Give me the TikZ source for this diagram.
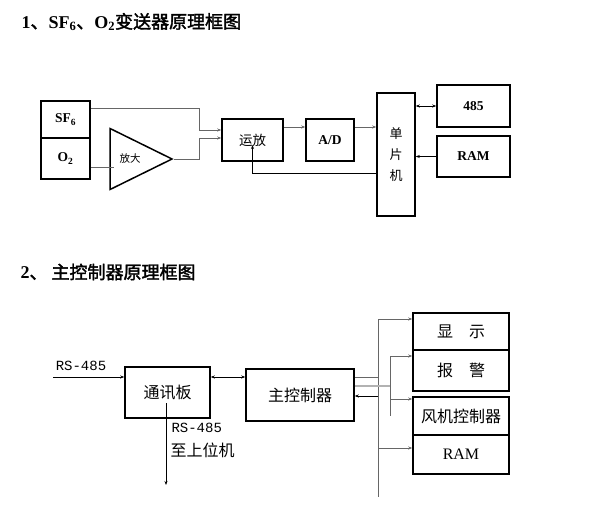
\documentclass[tikz,border=0pt]{standalone}
\usepackage{fontspec}
\setmainfont{Liberation Serif}
\setmonofont{Liberation Mono}
\newfontfamily\cjk[AutoFakeBold=2]{Noto Sans CJK SC}
\usetikzlibrary{shapes.geometric,arrows.meta,positioning,calc}

\begin{document}
\begin{tikzpicture}[x=1pt,y=-1pt,
      box/.style    = {rectangle, draw=black, line width=1.5pt, inner sep=0pt,
                       align=center},
      amp/.style    = {isosceles triangle, isosceles triangle stretches,
                       draw=black, line width=1.5pt, inner sep=0pt,
                       minimum width=61pt, minimum height=62pt},
      arrow/.style  = {-{Stealth[length=4pt,width=3pt]}, line width=0.8pt},
      darrow/.style = {{Stealth[length=4pt,width=3pt]}-{Stealth[length=4pt,width=3pt]},
                       line width=0.8pt},
      garrow/.style = {arrow, black!60},
      gline/.style  = {line width=0.8pt, black!60},
      big/.style    = {font=\cjk\fontsize{16}{18}\selectfont},
      mid/.style    = {font=\cjk\fontsize{13.5}{15}\selectfont},
      bmid/.style   = {font=\bfseries\fontsize{13.5}{15}\selectfont},
      mono/.style   = {font=\ttfamily\fontsize{14}{16}\selectfont}
    ]
    \useasboundingbox (0,0) rectangle (598,511);

    % titles
    \node[anchor=west, font=\bfseries\fontsize{18}{20}\selectfont] (t1) at (18,22)
      {1{\cjk 、}SF\textsubscript{6}{\cjk 、}O\textsubscript{2}{\cjk 变送器原理框图}};
    \node[anchor=west, font=\bfseries\fontsize{18}{20}\selectfont] (t2) at (17,272)
      {2{\cjk 、\ 主控制器原理框图}};

    % 1: transmitter
    \node[box, bmid, minimum width=49pt, minimum height=37pt] (sf6) at (65.5,119.5) {SF\textsubscript{6}};
    \node[box, bmid, minimum width=49pt, minimum height=41pt] (o2)  at (65.5,158.5) {O\textsubscript{2}};
    \node[amp, anchor=apex, font=\cjk\fontsize{10.5}{12}\selectfont] (fd) at (174,159) {放大};
    \node[box, mid, minimum width=61pt, minimum height=42pt] (yf)   at (252.5,140) {运放};
    \node[box, bmid, minimum width=48pt, minimum height=42pt] (ad)  at (330,140) {A/D};
    \node[box, font=\cjk\fontsize{13}{21}\selectfont,
          minimum width=38pt, minimum height=123pt] (mcu) at (396,154.5) {单\\片\\机};
    \node[box, bmid, minimum width=73pt, minimum height=42pt] (b485) at (473.5,106) {485};
    \node[box, bmid, minimum width=73pt, minimum height=41pt] (ram1) at (473.5,156.5) {RAM};

    \draw[garrow] ([yshift=11.5pt]sf6.east) -- ++(109,0) |- ([yshift=10pt]yf.west);
    \draw[garrow] (fd.apex) -- ++(25,0) |- ([yshift=2pt]yf.west);
    \draw[gline]  ([yshift=-8.5pt]o2.east) -- ++(23,0);
    \draw[arrow]  ([yshift=-18.5pt]mcu.west) -| ([yshift=-5pt]yf.center);
    \draw[garrow] ([yshift=13pt]yf.east) -- ([yshift=13pt]ad.west);
    \draw[garrow] ([yshift=13pt]ad.east) -- ([yshift=13pt]ad.east -| mcu.west);
    \draw[darrow] (b485.west -| mcu.east) -- (b485.west);
    \draw[arrow]  (ram1.west) -- (ram1.west -| mcu.east);

    % 2: main controller
    \node[box, big, minimum width=85pt, minimum height=51pt]  (tx)    at (167.5,392.5) {通讯板};
    \node[box, big, minimum width=108pt, minimum height=52pt] (main)  at (300,395) {主控制器};
    \node[box, big, minimum width=96pt, minimum height=37pt]  (disp)  at (461,331.5) {显\quad 示};
    \node[box, big, minimum width=96pt, minimum height=41pt]  (alarm) at (461,370.5) {报\quad 警};
    \node[box, big, minimum width=96pt, minimum height=38pt]  (fan)   at (461,416) {风机控制器};
    \node[box, minimum width=96pt, minimum height=39pt,
          font=\fontsize{16}{18}\selectfont]                  (ram2)  at (461,454.5) {RAM};

    \node[mono] (rsin) at (81,366) {RS-485};
    \node[mono, anchor=west] (rsout) at (168,428) {RS-485};
    \node[big, anchor=west]  (pc)    at (167,450) {至上位机};

    \coordinate (src)  at (53,377);
    \coordinate (dst)  at (166,485);
    \coordinate (bus1) at (378,319);
    \coordinate (bus1e) at (378,497);
    \coordinate (bus2) at (390,356);
    \coordinate (bus2e) at (390,416);

    \draw[arrow]  (src) -- (src -| tx.west);
    \draw[arrow]  ([shift={(-1.5,10.5)}]tx.center) -- (dst);
    \draw[darrow] ([yshift=15.5pt]tx.east) -- ([yshift=15.5pt]tx.east -| main.west);
    \draw[gline]  (bus1) -- (bus1e);
    \draw[gline]  (bus2) -- (bus2e);
    \draw[gline]  ([yshift=18pt]main.east) -- ([yshift=18pt]main.east -| bus1);
    \draw[gline, double=black!30, double distance=1.2pt]
                  ([yshift=9pt]main.east) -- ([yshift=9pt]main.east -| bus2);
    \draw[arrow]  ([yshift=-1pt]main.east -| bus1) -- ([yshift=-1pt]main.east);
    \draw[garrow] (bus1) -- ([yshift=12.5pt]disp.west);
    \draw[garrow] (bus2) -- ([yshift=14.5pt]alarm.west);
    \draw[garrow] ([yshift=17pt]fan.west -| bus2) -- ([yshift=17pt]fan.west);
    \draw[garrow] ([yshift=6.5pt]ram2.west -| bus1) -- ([yshift=6.5pt]ram2.west);
  \end{tikzpicture}
\end{document}
